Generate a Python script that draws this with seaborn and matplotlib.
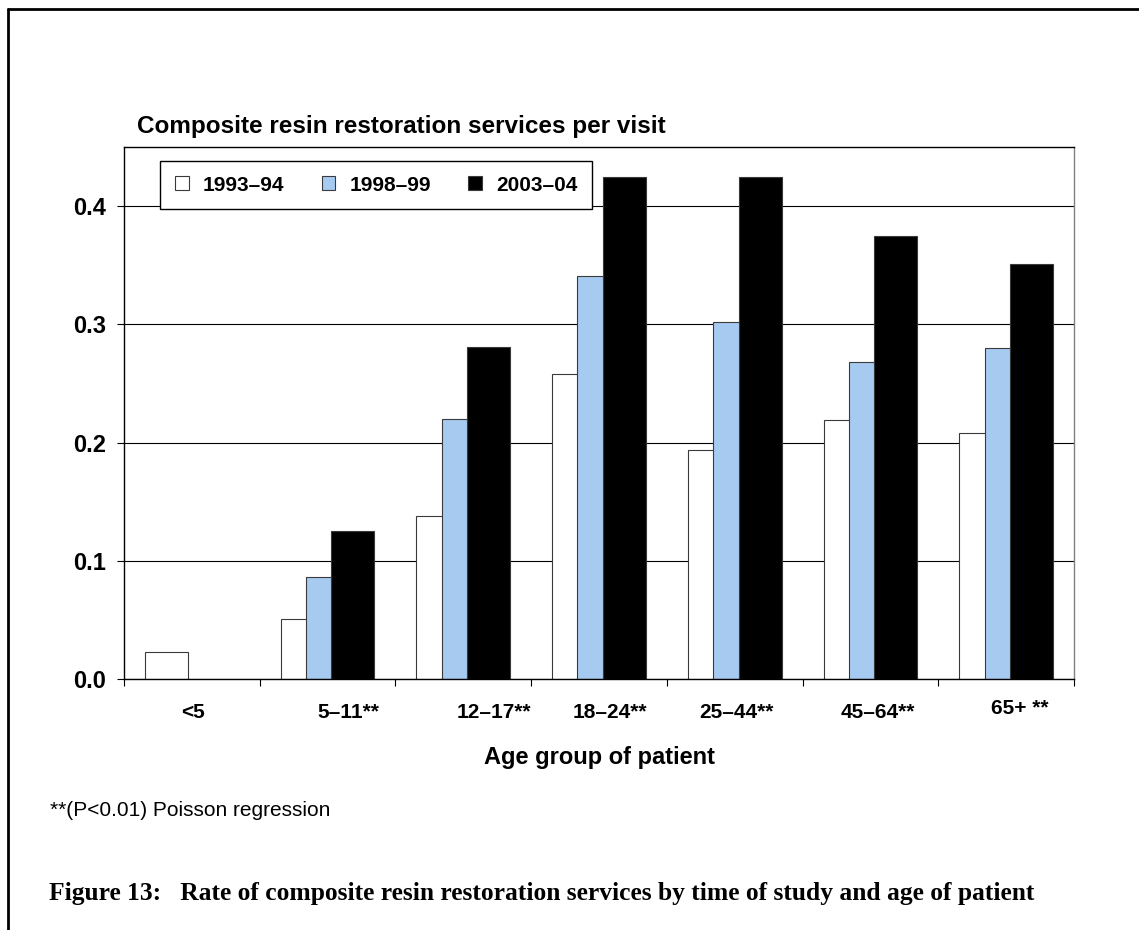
import matplotlib
matplotlib.use("Agg")
import matplotlib.pyplot as plt
import matplotlib.transforms as mtransforms
from matplotlib.lines import Line2D
from matplotlib.patches import Patch
import numpy as np
import pandas as pd
import seaborn as sns

# Data
age_groups = ["<5", "5\u201311**", "12\u201317**", "18\u201324**", "25\u201344**", "45\u201364**", "65+ **"]
series_names = ["1993\u201394", "1998\u201399", "2003\u201304"]
rate_1993 = [0.023, 0.051, 0.138, 0.258, 0.194, 0.219, 0.208]
rate_1998 = [np.nan, 0.086, 0.220, 0.341, 0.302, 0.268, 0.280]
rate_2003 = [np.nan, 0.125, 0.281, 0.425, 0.425, 0.375, 0.351]
y_ticks = [0.0, 0.1, 0.2, 0.3, 0.4]

colors = ["#FFFFFF", "#A6CAF0", "#000000"]
bar_width = 0.317
bar_shift = [-0.187, 0.0, 0.187]

sns.set_style("white")
plt.rcParams["font.family"] = ["Liberation Sans", "DejaVu Sans"]
plt.rcParams["font.weight"] = "bold"
for key in ["text.color", "axes.labelcolor", "xtick.color", "ytick.color"]:
    plt.rcParams[key] = "black"

fig = plt.figure(figsize=(11.39, 9.30), dpi=100)
ax = fig.add_axes([124 / 1139, 1 - 679 / 930, 950 / 1139, 532 / 930])

# long table, one row per bar
frames = []
for name, vals in zip(series_names, [rate_1993, rate_1998, rate_2003]):
    frames.append(pd.DataFrame({"group": np.arange(len(age_groups)),
                                "rate": vals, "series": name}))
df = pd.concat(frames, ignore_index=True)

# Excel-style overlapping bars: draw each series in turn, later ones on top
for i, name in enumerate(series_names):
    sub = df[df["series"] == name].dropna()
    sns.barplot(x=sub["group"] + bar_shift[i], y=sub["rate"], native_scale=True,
                width=bar_width, color=colors[i], saturation=1, errorbar=None,
                edgecolor="#3a3a3a", linewidth=0.8, ax=ax)

ax.set_ylim(0, 0.45)
ax.set_xlim(-0.5, len(age_groups) - 0.5)
ax.set_yticks(y_ticks)
ax.set_yticklabels([f"{v:.1f}" for v in y_ticks], fontsize=17, fontweight="bold")
ax.yaxis.grid(True, color="black", linewidth=0.8)
ax.set_axisbelow(True)

# ticks at category boundaries, labels at centres
ax.set_xticks(np.arange(-0.5, len(age_groups), 1.0))
ax.set_xticklabels([])
ax.set_xticks(np.arange(len(age_groups)), minor=True)
ax.set_xticklabels(age_groups, minor=True, fontsize=15, fontweight="bold")
ax.tick_params(axis="x", which="minor", length=0, pad=17)
ax.tick_params(axis="x", which="major", direction="out", length=5, width=0.8, color="black", bottom=True)
ax.tick_params(axis="y", direction="out", length=5, width=0.8, color="black", pad=8, left=True)

# nudge labels the way they sit in the original
dx_pts = [0.5, 15, 22, 7.5, 1.5, 5.5, 9.5]
dy_pts = [0, 0, 0, 0, 0, 0, 2.5]
for lab, dx, dy in zip(ax.get_xticklabels(minor=True), dx_pts, dy_pts):
    lab.set_transform(lab.get_transform() + mtransforms.ScaledTranslation(dx / 72, dy / 72, fig.dpi_scale_trans))

ax.set_xlabel("Age group of patient", fontsize=17, fontweight="bold")
ax.xaxis.set_label_coords(0.5, (679 - 757) / 532)
ax.xaxis.label.set_va("center")
ax.set_ylabel("")

for side in ["left", "bottom", "top"]:
    ax.spines[side].set_color("black")
    ax.spines[side].set_linewidth(1)
ax.spines["right"].set_color("#808080")
ax.spines["right"].set_linewidth(1)

handles = [Patch(facecolor=c, edgecolor="#3a3a3a", linewidth=0.8) for c in colors]
leg = ax.legend(handles, series_names, ncol=3, loc="upper left",
                bbox_to_anchor=((160 - 124) / 950, (679 - 161) / 532), borderaxespad=0,
                prop={"size": 15, "weight": "bold"}, frameon=True, fancybox=False,
                framealpha=1, edgecolor="black", handlelength=0.67, handleheight=0.67,
                handletextpad=0.67, columnspacing=1.8, borderpad=0.7)
leg.get_frame().set_linewidth(1)

fig.text(137 / 1139, 1 - 127 / 930, "Composite resin restoration services per visit",
         fontsize=17.5, fontweight="bold", va="center", ha="left")
fig.text(50 / 1139, 1 - 810 / 930, "**(P<0.01) Poisson regression",
         fontsize=15, fontweight="normal", va="center", ha="left")
fig.text(49 / 1139, 1 - 893 / 930,
         "Figure 13:   Rate of composite resin restoration services by time of study and age of patient",
         fontsize=18.4, fontweight="bold", va="center", ha="left",
         family=["Liberation Serif", "DejaVu Serif"])

# page frame (left and top rules)
fig.add_artist(Line2D([8 / 1139, 8 / 1139], [0, 1 - 9 / 930], color="black", linewidth=2,
                      transform=fig.transFigure))
fig.add_artist(Line2D([8 / 1139, 1], [1 - 9 / 930, 1 - 9 / 930], color="black", linewidth=2,
                      transform=fig.transFigure))

fig.savefig("out.png", dpi=100)
